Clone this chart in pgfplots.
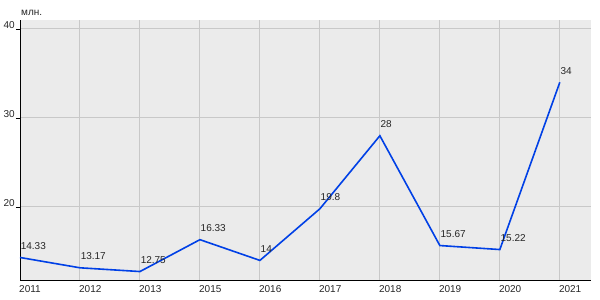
\documentclass[border=0pt]{standalone}
\usepackage{pgfplots}
\pgfplotsset{compat=1.18}
\usepackage{fontspec}
\setmainfont{Liberation Sans}
\definecolor{bg}{RGB}{235,235,235}
\definecolor{gridc}{RGB}{200,200,200}
\definecolor{lineb}{RGB}{0,64,230}
\begin{document}
\begin{tikzpicture}
\useasboundingbox (-20bp,-20bp) rectangle (580bp,280bp);
\begin{axis}[
  name=ax,
  at={(0,0)}, anchor=south west,
  scale only axis, width=571bp, height=260bp,
  xmin=0, xmax=9.52, ymin=11.8, ymax=41,
  axis x line*=bottom, axis y line*=left,
  axis background/.style={fill=bg},
  xtick={0,...,9},
  xticklabels={2011,2012,2013,2015,2016,2017,2018,2019,2020,2021},
  ytick={20,30,40},
  grid=major, major grid style={gridc, line width=1bp},
  xtick style={draw=none},
  ytick style={black, line width=0.8bp},
  major tick length=4bp, tick align=outside,
  xticklabel style={anchor=north west, xshift=-1bp, yshift=-1bp, inner sep=0pt},
  yticklabel style={anchor=base east, inner sep=0pt, xshift=-1bp},
  ticklabel style={font=\fontsize{10bp}{12bp}\selectfont, text=black!85},
  /pgf/number format/assume math mode=true,
  axis line style={black, line width=1bp},
  nodes near coords, point meta=explicit symbolic,
  nodes near coords style={anchor=base west, inner sep=0pt, yshift=8bp, xshift=0bp,
    font=\fontsize{10bp}{12bp}\selectfont, text=black!85},
  clip=false,
]
\addplot[lineb, line width=1.6bp, mark=none] table[x=x, y=y, meta=l] {
x y l
0 14.33 14.33
1 13.17 13.17
2 12.75 12.75
3 16.33 16.33
4 14 14
5 19.8 19.8
6 28 28
7 15.67 15.67
8 15.22 15.22
9 34 34
};
\end{axis}
\node[anchor=base west, inner sep=0pt, font=\fontsize{10bp}{12bp}\selectfont, text=black!85] at ([xshift=1bp,yshift=4bp]ax.north west) {млн.};
\end{tikzpicture}
\end{document}
